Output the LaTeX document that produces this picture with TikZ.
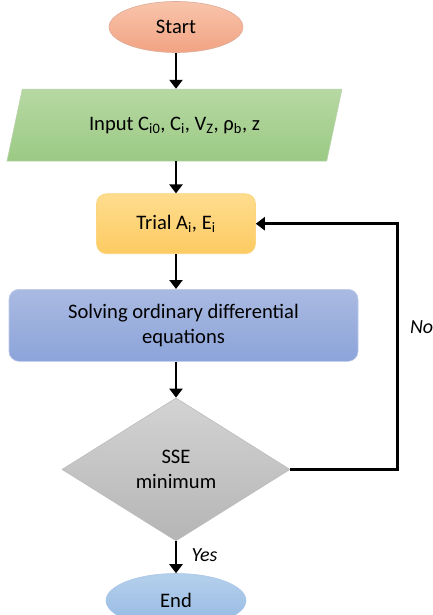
\documentclass[tikz,border=0pt]{standalone}
\usepackage{fontspec}
\setmainfont{Carlito}
\usetikzlibrary{positioning,shapes.geometric,arrows.meta}
\definecolor{startA}{HTML}{F8C4AB}
\definecolor{startB}{HTML}{F2A383}
\definecolor{inputA}{HTML}{B7D8A3}
\definecolor{inputB}{HTML}{9BCA84}
\definecolor{trialA}{HTML}{FFDC8E}
\definecolor{trialB}{HTML}{FCCB62}
\definecolor{solveA}{HTML}{AABAE1}
\definecolor{solveB}{HTML}{8CA4DA}
\definecolor{checkA}{HTML}{D3D3D3}
\definecolor{checkB}{HTML}{B5B5B5}
\definecolor{endA}{HTML}{B5D0EC}
\definecolor{endB}{HTML}{94B8E2}
\tikzset{
  block/.style={font=\fontsize{20.6}{25}\selectfont,align=center,inner sep=0pt,line width=0.6pt},
  terminal/.style={block,ellipse,minimum width=#1,minimum height=51pt},
  iobox/.style={block,trapezium,trapezium left angle=47.5,trapezium right angle=132.5,
    trapezium stretches body,minimum width=335pt,minimum height=72pt,
    top color=inputA,bottom color=inputB,draw=inputB!90!black!60},
  process/.style={block,rectangle,rounded corners=10pt,minimum height=#1},
  decision/.style={block,diamond,minimum width=228pt,minimum height=143pt,
    top color=checkA,bottom color=checkB,draw=checkB!90},
  flow/.style={line width=2.8pt,draw=black,-{Triangle[length=9pt,width=13pt]}},
  answer/.style={font=\fontsize{20}{24}\selectfont\itshape}
}
\begin{document}
\begin{tikzpicture}[node distance=34pt]
  \useasboundingbox (0,0) rectangle (432pt,-615pt);
  \node[terminal=134pt,top color=startA,bottom color=startB,draw=startB!85!black!70] (start) at (176pt,-27pt) {Start};
  \node[iobox,below=36pt of start,xshift=-1.5pt] (input) {Input C\textsubscript{i0}, C\textsubscript{i}, V\textsubscript{Z}, ρ\textsubscript{b}, z};
  \node[process=60pt,minimum width=159pt,below=32pt of input,xshift=1.5pt,
    top color=trialA,bottom color=trialB,draw=trialB!80!white] (trial) {Trial A\textsubscript{i}, E\textsubscript{i}};
  \node[process=72pt,minimum width=349pt,below=35pt of trial,xshift=7.5pt,
    top color=solveA,bottom color=solveB,draw=solveB!60!white] (solve) {Solving ordinary differential\\equations};
  \node[decision,below=36pt of solve,xshift=-7.5pt] (dec) {SSE\\minimum};
  \node[terminal=140pt,below=32pt of dec,minimum height=54pt,
    top color=endA,bottom color=endB,draw=endB!80!white] (end) {End};
  \coordinate[right=107pt of dec.east] (loop);
  % main line
  \draw[flow] (start.south) -- (start.south |- input.north);
  \draw[flow] (trial.north |- input.south) -- (trial.north);
  \draw[flow] (trial.south) -- (trial.south |- solve.north);
  \draw[flow] (dec.north |- solve.south) -- (dec.north);
  \draw[flow] (dec.south) -- node[answer,right=11pt,yshift=2pt] {Yes} (end.north);
  % back to the trial
  \draw[flow] (dec.east) -- (loop) |- node[answer,right=8pt,pos=0.29] {No} (trial.east);
\end{tikzpicture}
\end{document}
